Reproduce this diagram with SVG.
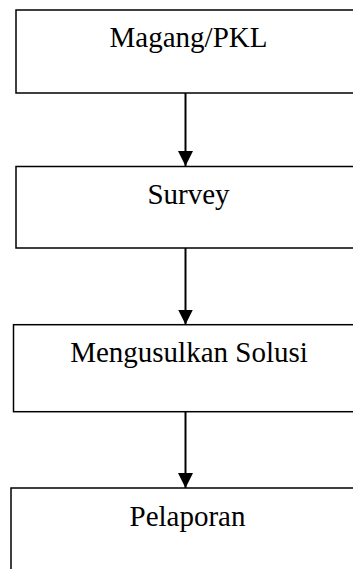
<svg xmlns="http://www.w3.org/2000/svg" width="353" height="569" viewBox="0 0 353 569">
<style>
.box{fill:#fff;stroke:#000;stroke-width:1.5}
.lbl{font-family:"Liberation Serif","Times New Roman",serif;font-size:29px;fill:#000;text-anchor:middle}
.conn{stroke:#000;stroke-width:2;fill:none}
</style>
<defs>
<marker id="ah" markerUnits="userSpaceOnUse" markerWidth="16" markerHeight="16" refX="15" refY="7.5" orient="auto">
<path d="M0,0 L15,7.5 L0,15 Z" fill="#000"/>
</marker>
</defs>
<rect width="353" height="569" fill="#fff"/>
<g id="node-magang">
<rect class="box" x="16" y="10" width="345" height="83"/>
<text class="lbl" x="188.5" y="46.7">Magang/PKL</text>
</g>
<g id="node-survey">
<rect class="box" x="16" y="166.5" width="345" height="81.5"/>
<text class="lbl" x="188.5" y="204">Survey</text>
</g>
<g id="node-solusi">
<rect class="box" x="13.5" y="324.7" width="345" height="87"/>
<text class="lbl" x="189" y="361.7">Mengusulkan Solusi</text>
</g>
<g id="node-pelaporan">
<rect class="box" x="11" y="488" width="350" height="100"/>
<text class="lbl" x="187.5" y="526">Pelaporan</text>
</g>
<g id="connectors">
<line class="conn" x1="185.5" y1="93" x2="185.5" y2="166" marker-end="url(#ah)"/>
<line class="conn" x1="185.5" y1="248" x2="185.5" y2="324.5" marker-end="url(#ah)"/>
<line class="conn" x1="185.5" y1="411.7" x2="185.5" y2="488" marker-end="url(#ah)"/>
</g>
</svg>
